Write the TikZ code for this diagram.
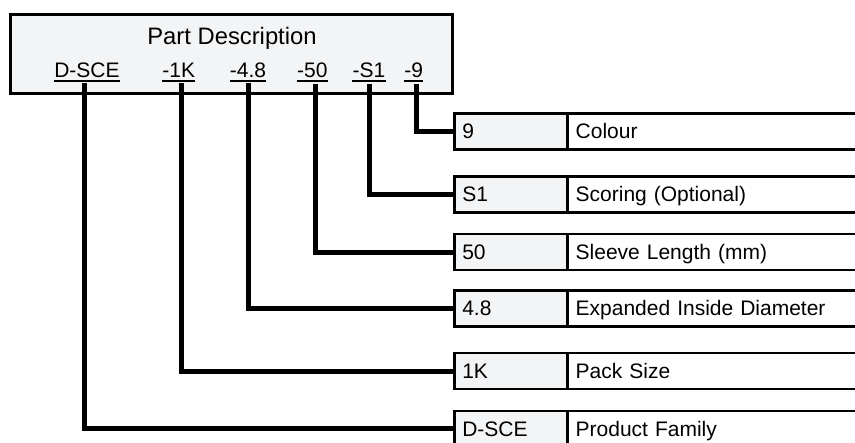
\documentclass[tikz,border=0pt]{standalone}
\usepackage{fontspec}
\setmainfont{Liberation Sans}
\definecolor{boxgray}{RGB}{243,244,246}
\begin{document}
\begin{tikzpicture}[x=1pt,y=-1pt,
  topbox/.style={draw=black, line width=3pt, fill=boxgray},
  title/.style={font=\fontsize{23.8}{28}\selectfont, inner sep=0pt, anchor=base},
  code/.style={font=\fontsize{21}{25}\selectfont, inner sep=0pt, anchor=base},
  uline/.style={line width=1.6pt},
  keycell/.style={draw=black, line width=2.7pt, fill=boxgray, outer sep=0pt,
    minimum width=112.6pt, minimum height=36pt, inner xsep=7.6pt, inner ysep=0pt,
    text width=97.4pt, align=left, text height=14.4pt, text depth=0pt,
    font=\fontsize{21}{25}\selectfont},
  desccell/.style={draw=black, line width=2.7pt, fill=white, outer sep=0pt, anchor=west,
    minimum width=320pt, minimum height=36pt, inner xsep=8.4pt, inner ysep=0pt,
    text width=303.2pt, align=left, text height=14.4pt, text depth=0pt,
    font=\fontsize{21}{25}\selectfont},
  conn/.style={line width=5pt, line join=miter}]
\useasboundingbox (0,0) rectangle (855,443);

% top box
\draw[topbox] (10.5,14.5) rectangle (452.5,93.5);
\node[title] (ttl) at (232,44.5) {Part Description};

% codes
\node[code] (c1) at (87,77.5) {D-SCE};
\node[code] (c2) at (178.7,77.5) {-1K};
\node[code] (c3) at (248,77.5) {-4.8};
\node[code] (c4) at (312.3,77.5) {-50};
\node[code] (c5) at (369,77.5) {-S1};
\node[code] (c6) at (413.7,77.5) {-9};
\foreach \c in {c1,c2,c3,c4,c5,c6}
  \draw[uline] ([yshift=-3.4pt]\c.base west) -- ([yshift=-3.4pt]\c.base east);

% connector starts
\coordinate (s1) at (84,83);
\coordinate (s2) at (181.5,83);
\coordinate (s3) at (248,83);
\coordinate (s4) at (315,84);
\coordinate (s5) at (369.5,84);
\coordinate (s6) at (416,84);

% right rows
\node[keycell, anchor=west] (k6) at (454.7,131.65) {9};
\node[desccell] (d6) at (k6.east) {Colour};
\node[keycell, anchor=west] (k5) at (454.7,194.5) {S1};
\node[desccell] (d5) at (k5.east) {Scoring (Optional)};
\node[keycell, anchor=west] (k4) at (454.7,252.15) {50};
\node[desccell] (d4) at (k4.east) {Sleeve Length (mm)};
\node[keycell, anchor=west] (k3) at (454.7,308.7) {4.8};
\node[desccell] (d3) at (k3.east) {Expanded Inside Diameter};
\node[keycell, anchor=west] (k2) at (454.7,371.15) {1K};
\node[desccell] (d2) at (k2.east) {Pack Size};
\node[keycell, anchor=west] (k1) at (454.7,429) {D-SCE};
\node[desccell] (d1) at (k1.east) {Product Family};

% connectors
\draw[conn] (s1) |- (k1.west);
\draw[conn] (s2) |- (k2.west);
\draw[conn] (s3) |- (k3.west);
\draw[conn] (s4) |- (k4.west);
\draw[conn] (s5) |- (k5.west);
\draw[conn] (s6) |- (k6.west);
\end{tikzpicture}
\end{document}
